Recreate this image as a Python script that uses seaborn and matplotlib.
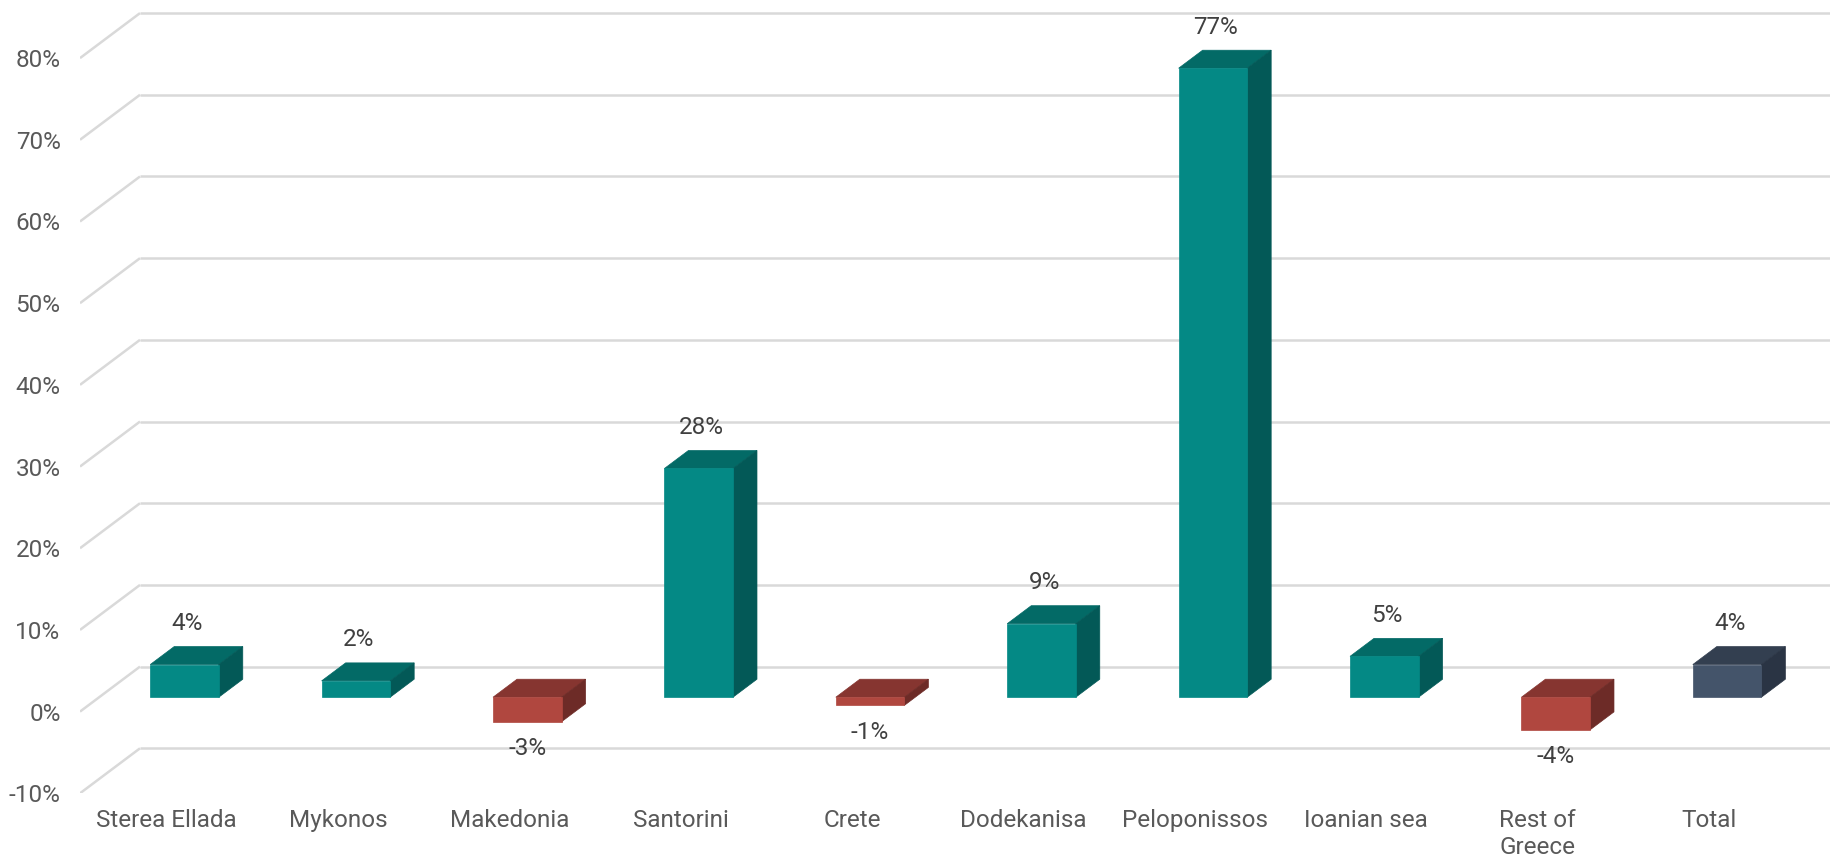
import numpy as np
import pandas as pd
import matplotlib
matplotlib.use("Agg")
import matplotlib.pyplot as plt
from matplotlib.patches import Polygon
import seaborn as sns

# ---- data ----------------------------------------------------------------
regions = ["Sterea Ellada", "Mykonos", "Makedonia", "Santorini", "Crete",
           "Dodekanisa", "Peloponissos", "Ioanian sea", "Rest of\nGreece", "Total"]
change_pct = [4, 2, -3, 28, -1, 9, 77, 5, -4, 4]
y_tick_values = [-10, 0, 10, 20, 30, 40, 50, 60, 70, 80]

# ---- styling -------------------------------------------------------------
FRONT = {"up": "#048985", "down": "#b0473f", "total": "#44546a"}
TOP = {"up": "#036a66", "down": "#863530", "total": "#333f50"}
SIDE = {"up": "#035957", "down": "#6d2b27", "total": "#2a3444"}
GRID = "#d9d9d9"
TICK_COLOR = "#595959"
LABEL_COLOR = "#404040"
FONT_SIZE = 17.5

kinds = ["total" if r == "Total" else ("up" if v >= 0 else "down")
         for r, v in zip(regions, change_pct)]
df = pd.DataFrame({"region": regions, "change": change_pct, "kind": kinds})

sns.set_theme(style="white")
plt.rcParams["font.family"] = ["Roboto", "DejaVu Sans"]

W, H = 1831, 861
fig = plt.figure(figsize=(W / 100, H / 100), dpi=100)
ax_left, ax_bottom_px = 80, 793.3
ax = fig.add_axes([ax_left / W, (H - ax_bottom_px) / H,
                   (W - ax_left) / W, ax_bottom_px / H])

sns.barplot(data=df, x="region", y="change", hue="kind", palette=FRONT,
            width=0.4, dodge=False, legend=False, errorbar=None,
            saturation=1, linewidth=0, ax=ax, zorder=2)

xmin, xmax = -0.6097, 9.6062
ymin, ymax = -11.75, 85.35
ax.set_xlim(xmin, xmax)
ax.set_ylim(ymin, ymax)

# pixel -> data scale factors
ppx = (W - ax_left) / (xmax - xmin)
ppy = ax_bottom_px / (ymax - ymin)

# oblique projection: floor depth and bar depth in pixels
FLOOR_DX, FLOOR_DY = 60, 45
BAR_DX, BAR_DY = 24, 18
BAR_FRONT = 0.32  # bar front plane, as a fraction of the floor depth

front_off = BAR_FRONT * FLOOR_DY / ppy
back_off = (1 - BAR_FRONT) * FLOOR_DY / ppy
wall_x = xmin + FLOOR_DX / ppx

# back wall and side wall gridlines
for v in y_tick_values:
    ax.plot([wall_x, xmax], [v + back_off] * 2, color=GRID, lw=1.8,
            zorder=0.5, solid_capstyle="butt")
    ax.plot([xmin, wall_x], [v - front_off, v + back_off], color=GRID, lw=1.8,
            zorder=0.5, solid_capstyle="butt")

# top and side faces of each bar
bdx, bdy = BAR_DX / ppx, BAR_DY / ppy
for patch in ax.patches[:]:
    x0 = patch.get_x()
    w = patch.get_width()
    h = patch.get_height()
    y0 = patch.get_y()
    if w == 0:
        continue
    idx = int(round(x0 + w / 2))
    k = kinds[idx]
    patch.set_edgecolor(FRONT[k])
    patch.set_linewidth(0.5)
    lo, hi = min(y0, y0 + h), max(y0, y0 + h)
    top = Polygon([(x0, hi), (x0 + w, hi), (x0 + w + bdx, hi + bdy), (x0 + bdx, hi + bdy)],
                  closed=True, facecolor=TOP[k], edgecolor=TOP[k], lw=0.5, zorder=1.9)
    side = Polygon([(x0 + w, lo), (x0 + w + bdx, lo + bdy), (x0 + w + bdx, hi + bdy), (x0 + w, hi)],
                   closed=True, facecolor=SIDE[k], edgecolor=SIDE[k], lw=0.5, zorder=1.9)
    ax.add_patch(top)
    ax.add_patch(side)

# value labels
for i, v in enumerate(change_pct):
    if v >= 0:
        ax.annotate(f"{v}%", (i, v), xytext=(2, 41 * 0.72), textcoords="offset points",
                    ha="center", va="center", fontsize=FONT_SIZE, color=LABEL_COLOR, zorder=5)
    else:
        ax.annotate(f"{v}%", (i, v), xytext=(0, -27 * 0.72), textcoords="offset points",
                    ha="center", va="center", fontsize=FONT_SIZE, color=LABEL_COLOR, zorder=5)

# axis tick labels sit at the front edge of the floor
ax.set_yticks([v - front_off for v in y_tick_values],
              labels=[f"{v}%" for v in y_tick_values])
ax.set_xticks(np.arange(len(regions)) - 18 / ppx, labels=regions)
ax.tick_params(axis="y", length=0, pad=14, labelcolor=TICK_COLOR, labelsize=FONT_SIZE)
ax.tick_params(axis="x", length=0, pad=11, labelcolor=TICK_COLOR, labelsize=FONT_SIZE)
for t in ax.get_xticklabels():
    t.set_linespacing(1.25)
ax.set_xlabel("")
ax.set_ylabel("")
for s in ax.spines.values():
    s.set_visible(False)
ax.grid(False)
ax.patch.set_alpha(0)

fig.savefig("out.png", dpi=100, facecolor="white")
